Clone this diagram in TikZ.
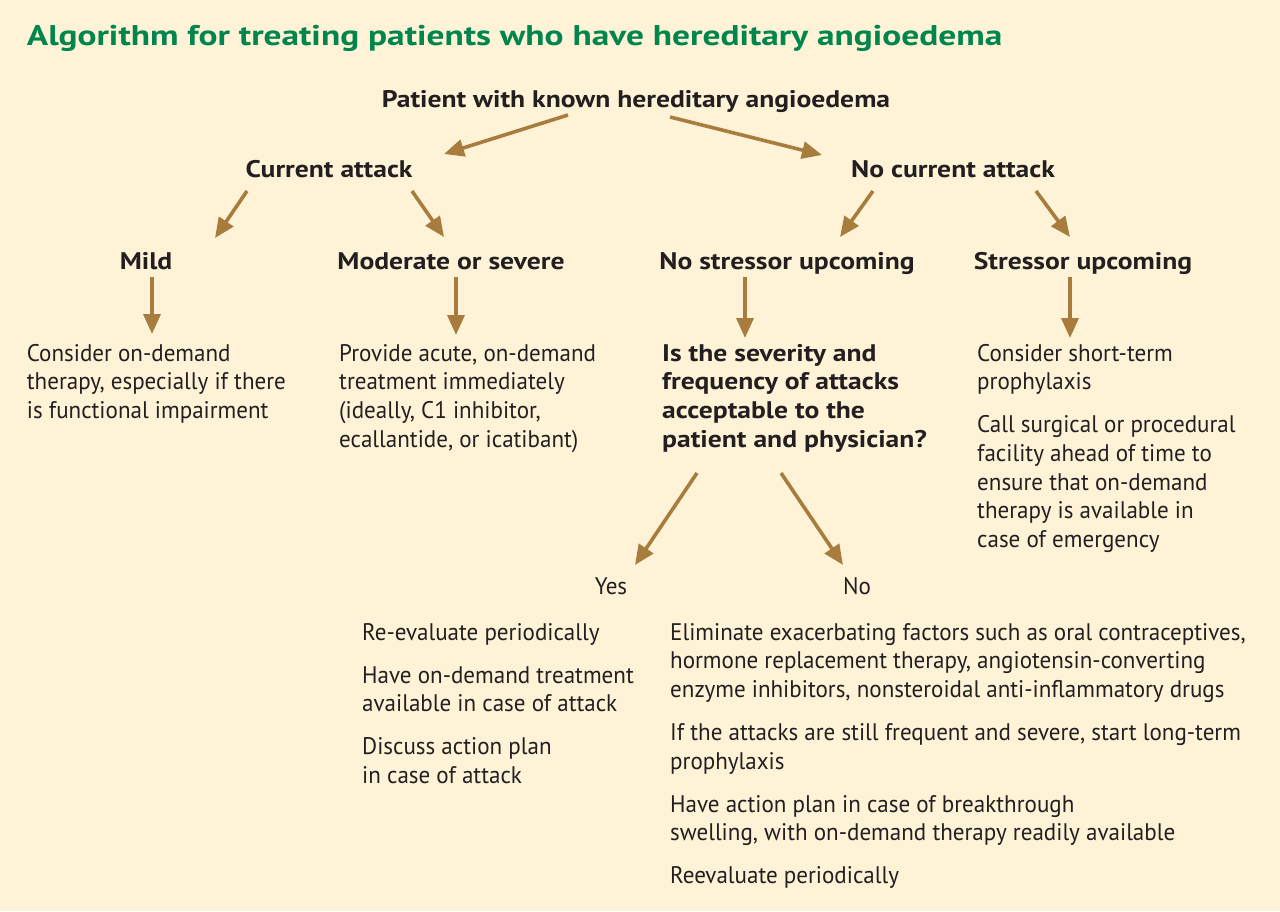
\documentclass[tikz,border=0pt]{standalone}
\usepackage{fontspec}
\setmainfont{PT Sans}[UprightFeatures={FakeStretch=0.96}, BoldFeatures={FakeStretch=1.15}]
\newfontfamily\titlefont{PT Sans}[BoldFeatures={FakeStretch=1.24}]
\usetikzlibrary{arrows.meta}
\definecolor{bgc}{RGB}{254,243,215}
\definecolor{titlegreen}{RGB}{0,133,76}
\definecolor{arrowc}{RGB}{167,124,60}
\definecolor{textc}{RGB}{35,31,32}
\newcommand{\blk}[1]{\begin{tabular}[t]{@{}l@{}}#1\end{tabular}}
\tikzset{
  bodytxt/.style={inner sep=0pt, anchor=base west, text=textc, font=\fontsize{24}{28.7}\selectfont},
  boldtxt/.style={inner sep=0pt, anchor=base west, text=textc, font=\fontsize{24}{28.7}\selectfont\bfseries},
  head/.style={inner sep=0pt, anchor=base, text=textc, font=\fontsize{24}{28.7}\selectfont\bfseries},
  plain/.style={inner sep=0pt, anchor=base, text=textc, font=\fontsize{24}{28.7}\selectfont},
  titletxt/.style={inner sep=0pt, anchor=base west, text=titlegreen, font=\titlefont\fontsize{28.5}{34}\selectfont\bfseries},
  arr/.style={draw=arrowc, line width=3.6pt, -{Triangle[length=20pt,width=17pt]}}
}
\begin{document}
\begin{tikzpicture}[x=1pt,y=-1pt]
\useasboundingbox (0,0) rectangle (1280,911);
\fill[bgc] (0,0) rectangle (1280,911);

\node[titletxt] (title) at (26.7,45) {Algorithm for treating patients who have hereditary angioedema};

\node[head] (pat) at (636,107) {Patient with known hereditary angioedema};
\node[head] (cur) at (329,177) {Current attack};
\node[head] (nocur) at (953,177) {No current attack};
\node[head] (mild) at (146,269) {Mild};
\node[head] (mod) at (451,269) {Moderate or severe};
\node[head] (nostr) at (787,269) {No stressor upcoming};
\node[head] (str) at (1083,269) {Stressor upcoming};

\node[bodytxt] (mildtxt) at (26.7,361) {\blk{Consider on-demand\\therapy, especially if there\\is functional impairment}};
\node[bodytxt] (modtxt) at (339,361) {\blk{Provide acute, on-demand\\treatment immediately\\(ideally, C1 inhibitor,\\ecallantide, or icatibant)}};
\node[boldtxt] (quest) at (662,361) {\blk{Is the severity and\\frequency of attacks\\acceptable to the\\patient and physician?}};
\node[bodytxt] (strtxt) at (977,361) {\blk{Consider short-term\\prophylaxis\\[14.3pt]Call surgical or procedural\\facility ahead of time to\\ensure that on-demand\\therapy is available in\\case of emergency}};

\node[plain] (yes) at (611,594) {Yes};
\node[plain] (no) at (857,594) {No};

\node[bodytxt] (yestxt) at (362,640) {\blk{Re-evaluate periodically\\[14.3pt]Have on-demand treatment\\available in case of attack\\[14.3pt]Discuss action plan\\in case of attack}};
\node[bodytxt] (notxt) at (670,640) {\blk{Eliminate exacerbating factors such as oral contraceptives,\\hormone replacement therapy, angiotensin-converting\\enzyme inhibitors, nonsteroidal anti-inflammatory drugs\\[14.3pt]If the attacks are still frequent and severe, start long-term\\prophylaxis\\[14.3pt]Have action plan in case of breakthrough\\swelling, with on-demand therapy readily available\\[14.3pt]Reevaluate periodically}};

% arrow end points
\coordinate (p1) at (568,115); \coordinate (c1) at (444,154);
\coordinate (p2) at (670,117); \coordinate (n1) at (822,155);
\coordinate (c2) at (247,191); \coordinate (m1) at (215,238);
\coordinate (c3) at (412,191); \coordinate (s1) at (444,237);
\coordinate (n2) at (873,191); \coordinate (ns1) at (840,237);
\coordinate (n3) at (1036,191); \coordinate (st1) at (1070,237);
\coordinate (m2) at (152,277); \coordinate (mt) at (152,334);
\coordinate (s2) at (456,277); \coordinate (st) at (456,335);
\coordinate (ns2) at (745,277); \coordinate (qt) at (745,338);
\coordinate (st2) at (1070,277); \coordinate (stt) at (1070,338);
\coordinate (q1) at (697,473); \coordinate (y1) at (635,565);
\coordinate (q2) at (781,473); \coordinate (o1) at (843,565);

\draw[arr] (p1) -- (c1);
\draw[arr] (p2) -- (n1);
\draw[arr] (c2) -- (m1);
\draw[arr] (c3) -- (s1);
\draw[arr] (n2) -- (ns1);
\draw[arr] (n3) -- (st1);
\draw[arr] (m2) -- (mt);
\draw[arr] (s2) -- (st);
\draw[arr] (ns2) -- (qt);
\draw[arr] (st2) -- (stt);
\draw[arr] (q1) -- (y1);
\draw[arr] (q2) -- (o1);
\end{tikzpicture}
\end{document}
